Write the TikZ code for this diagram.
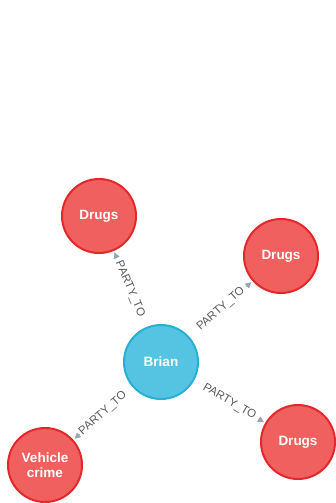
\documentclass[tikz,border=0pt]{standalone}
\usepackage{fontspec}
\setmainfont{Liberation Sans}
\usetikzlibrary{arrows.meta}

\definecolor{crimefill}{HTML}{F0605F}
\definecolor{crimeline}{HTML}{E3282B}
\definecolor{personfill}{HTML}{55C4E2}
\definecolor{personline}{HTML}{26B0D4}
\definecolor{relline}{HTML}{98A6B2}
\definecolor{reltext}{HTML}{5A5A5A}

\tikzset{
  entity/.style={circle, minimum size=74pt, inner sep=0pt, line width=2pt,
    text=white, align=center,
    font=\bfseries\fontsize{13.5}{15}\selectfont},
  crime/.style={entity, fill=crimefill, draw=crimeline},
  person/.style={entity, fill=personfill, draw=personline},
  rel/.style={draw=relline, line width=1pt, shorten >=1.5pt,
    -{Triangle[length=6pt,width=6pt]}},
  rellabel/.style={sloped, midway, inner sep=0pt, text=reltext,
    font=\fontsize{11.5}{12}\selectfont}
}

\begin{document}
\begin{tikzpicture}[x=1pt,y=-1pt]
  \useasboundingbox (0,0) rectangle (336,503);

  % nodes
  \node[person] (brian) at (161,362) {Brian};
  \node[crime] (d1) at (99,216) {Drugs};
  \node[crime] (d2) at (281,256) {Drugs};
  \node[crime] (d3) at (298,442) {Drugs};
  \node[crime] (vc) at (45,465) {Vehicle\\crime};

  % relationships: only the arrow end shows beside each caption
  \draw[rel, shorten <=75pt] (brian) -- node[rellabel] {PARTY\_TO} (d1);
  \draw[rel, shorten <=76pt] (brian) -- node[rellabel] {PARTY\_TO} (d2);
  \draw[rel, shorten <=75pt] (brian) -- node[rellabel] {PARTY\_TO} (d3);
  \draw[rel, shorten <=71pt] (brian) -- node[rellabel] {PARTY\_TO} (vc);
\end{tikzpicture}
\end{document}
